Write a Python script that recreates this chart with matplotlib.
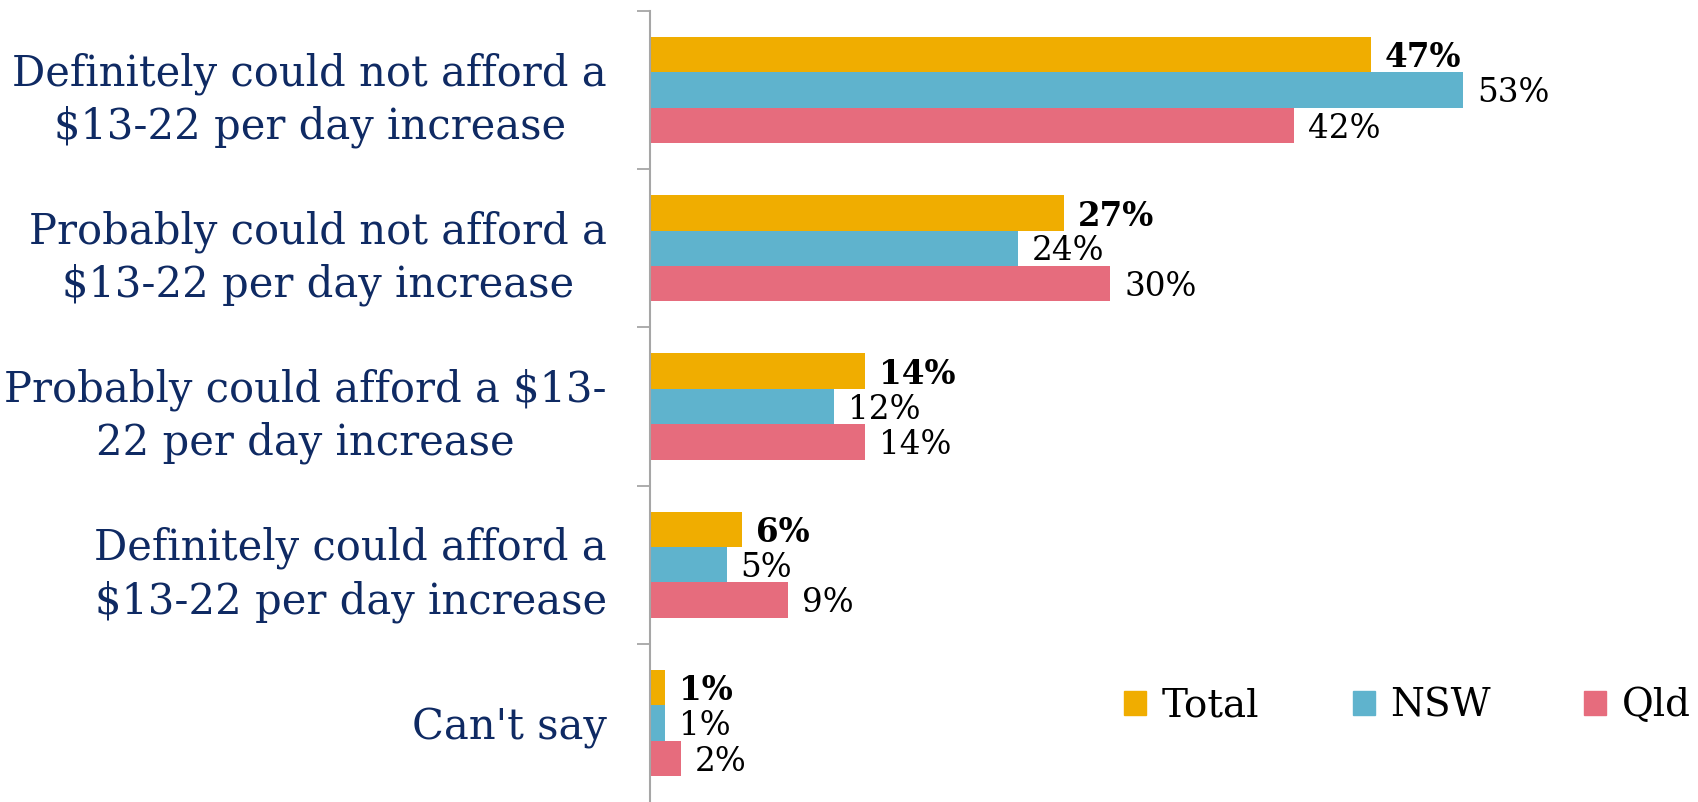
import matplotlib.pyplot as plt
from matplotlib.patches import Patch

categories = ["Definitely could not afford a\n$13-22 per day increase",
              "Probably could not afford a\n$13-22 per day increase",
              "Probably could afford a $13-\n22 per day increase",
              "Definitely could afford a\n$13-22 per day increase",
              "Can't say"]
series = ["Total", "NSW", "Qld"]
total = [47, 27, 14, 6, 1]
nsw = [53, 24, 12, 5, 1]
qld = [42, 30, 14, 9, 2]
colors = ["#F0AD00", "#5FB3CD", "#E66C7D"]

plt.rcParams['font.family'] = ['DejaVu Serif']

fig = plt.figure(figsize=(16.99, 8.02), dpi=100)
ax = fig.add_axes([650 / 1699, 0, 1028 / 1699, 1 - 11 / 802])

h = 0.224
ypos = list(range(len(categories)))
for k, (name, vals, c) in enumerate(zip(series, [total, nsw, qld], colors)):
    yy = [y + (k - 1) * h for y in ypos]
    ax.barh(yy, vals, height=h, color=c, label=name)
    for y, v in zip(yy, vals):
        ax.text(v + 0.9, y + 0.02, f"{v}%", va='center', ha='left', fontsize=23.5,
                fontweight='bold' if k == 0 else 'normal', color='black')

ax.set_xlim(0, 67)
ax.set_ylim(4.5, -0.5)
ax.set_xticks([])
ax.set_yticks(ypos)
ax.set_yticklabels(categories, fontsize=30, color='#0F2A63')
for lbl in ax.get_yticklabels():
    lbl.set_multialignment('center')
    lbl.set_linespacing(1.32)
ax.tick_params(axis='y', which='major', length=0, pad=31)
ax.set_yticks([y - 0.5 for y in ypos], minor=True)
ax.tick_params(axis='y', which='minor', length=9.4, width=1.3, color='#A6A6A6')

for s in ['top', 'right', 'bottom']:
    ax.spines[s].set_visible(False)
ax.spines['left'].set_color('#A6A6A6')
ax.spines['left'].set_linewidth(1.5)

handles = [Patch(color=c) for c in colors]
fig.legend(handles, series, ncol=3, frameon=False, fontsize=28,
           loc='center left', bbox_to_anchor=(1124 / 1699, 1 - 706 / 802),
           handlelength=0.57, handleheight=0.57, handletextpad=0.4,
           columnspacing=2.4, borderpad=0, borderaxespad=0)

fig.savefig("out.png", dpi=100)
